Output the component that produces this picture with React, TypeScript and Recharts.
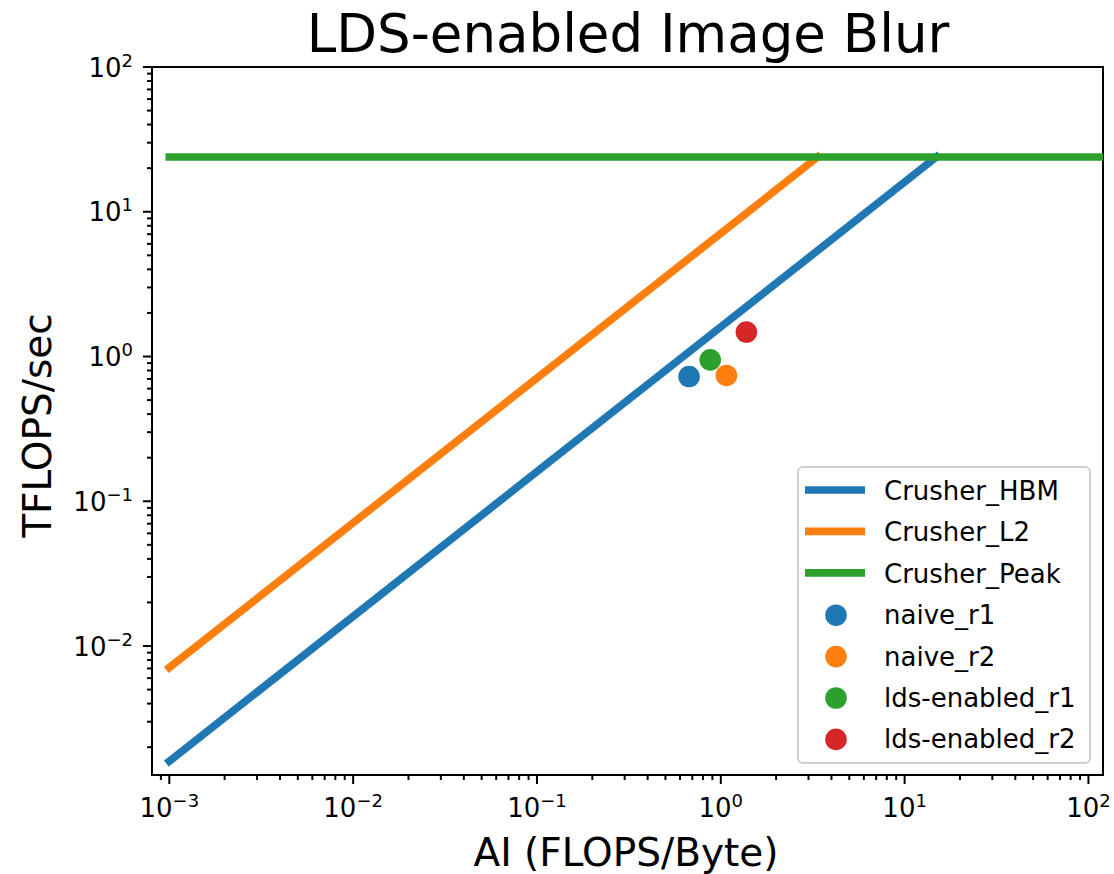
import React from "react";
import { ComposedChart, Line, Scatter, XAxis, YAxis, ReferenceArea } from "recharts";

// ---- data ----
const hbmAI = [0.001, 14.9];
const hbmPerf = [0.0016, 23.9];
const l2AI = [0.001, 3.37];
const l2Perf = [0.0071, 23.9];
const peakAI = [0.001, 200];
const peakPerf = [23.9, 23.9];

const pointNames = ["naive_r1", "naive_r2", "lds-enabled_r1", "lds-enabled_r2"];
const pointAI = [0.672, 1.073, 0.876, 1.378];
const pointPerf = [0.727, 0.74, 0.948, 1.476];
const pointColors = ["#1f77b4", "#ff7f0e", "#2ca02c", "#d62728"];

const lineNames = ["Crusher_HBM", "Crusher_L2", "Crusher_Peak"];
const lineColors = ["#1f77b4", "#ff7f0e", "#2ca02c"];

const X_DOMAIN = [0.000805, 120];
const Y_DOMAIN = [0.001285, 100];
const xDecades = [-4, -3, -2, -1, 0, 1, 2];
const yDecades = [-3, -2, -1, 0, 1, 2];
const minorMults = [1, 2, 3, 4, 5, 6, 7, 8, 9];

const buildTicks = (decades: number[], dom: number[]) => {
  const out: number[] = [];
  decades.forEach((d) => {
    minorMults.forEach((m) => {
      const v = m * Math.pow(10, d);
      if (v >= dom[0] * 0.9999 && v <= dom[1] * 1.0001) out.push(v);
    });
  });
  return out;
};
const xTicks = buildTicks(xDecades, X_DOMAIN);
const yTicks = buildTicks(yDecades, Y_DOMAIN);

const toXY = (xs: number[], ys: number[]) => xs.map((x, i) => ({ x, y: ys[i] }));
const hbmData = toXY(hbmAI, hbmPerf);
const l2Data = toXY(l2AI, l2Perf);
const peakData = toXY(peakAI, peakPerf);

const FONT = "DejaVu Sans, sans-serif";

const supText = (e: number) => (e < 0 ? "\u2212" + Math.abs(e) : String(e));

const isMajor = (v: number) => {
  const l = Math.log10(v);
  return Math.abs(l - Math.round(l)) < 1e-6;
};

const XTick = (props: any) => {
  const { x, y, payload } = props;
  const v = payload.value;
  const major = isMajor(v);
  const e = Math.round(Math.log10(v));
  return (
    <g>
      <line x1={x} x2={x} y1={y} y2={y + (major ? 9 : 5)} stroke="#000" strokeWidth={2} />
      {major && (
        <text x={x} y={y + 42} textAnchor="middle" fontSize={26} fontFamily={FONT} fill="#000">
          10<tspan dy={-10} fontSize={18}>{supText(e)}</tspan>
        </text>
      )}
    </g>
  );
};

const YTick = (props: any) => {
  const { x, y, payload } = props;
  const v = payload.value;
  const major = isMajor(v);
  const e = Math.round(Math.log10(v));
  return (
    <g>
      <line x1={x} x2={x - (major ? 9 : 5)} y1={y} y2={y} stroke="#000" strokeWidth={2} />
      {major && (
        <text x={x - 19} y={y + 9.5} textAnchor="end" fontSize={26} fontFamily={FONT} fill="#000">
          10<tspan dy={-10} fontSize={18}>{supText(e)}</tspan>
        </text>
      )}
    </g>
  );
};

const makeDot = (color: string) => (p: any) => (
  <circle cx={p.cx} cy={p.cy} r={10.8} fill={color} />
);

const legendRows = [
  ...lineNames.map((n, i) => ({ name: n, color: lineColors[i], kind: "line" })),
  ...pointNames.map((n, i) => ({ name: n, color: pointColors[i], kind: "dot" })),
];

export default function App() {
  return (
    <div style={{ position: "relative", width: 1114, height: 874, background: "#fff" }}>
      <style>{"body{margin:0;background:#fff}"}</style>
      <ComposedChart width={1114} height={874} margin={{ top: 67, right: 11, bottom: 0, left: 0 }}>
        <XAxis
          dataKey="x"
          type="number"
          scale="log"
          domain={X_DOMAIN}
          allowDataOverflow
          ticks={xTicks}
          interval={0}
          tick={<XTick />}
          tickLine={false}
          tickSize={0}
          tickMargin={0}
          axisLine={false}
          height={99}
        />
        <YAxis
          dataKey="y"
          type="number"
          scale="log"
          domain={Y_DOMAIN}
          allowDataOverflow
          ticks={yTicks}
          interval={0}
          tick={<YTick />}
          tickLine={false}
          tickSize={0}
          tickMargin={0}
          axisLine={false}
          width={152}
        />
        {pointNames.map((n, i) => (
          <Scatter
            key={n}
            name={n}
            data={[{ x: pointAI[i], y: pointPerf[i] }]}
            fill={pointColors[i]}
            shape={makeDot(pointColors[i])}
            isAnimationActive={false}
          />
        ))}
        <Line data={hbmData} dataKey="y" name={lineNames[0]} stroke={lineColors[0]} strokeWidth={7.7} strokeLinecap="square" dot={false} isAnimationActive={false} />
        <Line data={l2Data} dataKey="y" name={lineNames[1]} stroke={lineColors[1]} strokeWidth={7.7} strokeLinecap="square" dot={false} isAnimationActive={false} />
        <Line data={peakData} dataKey="y" name={lineNames[2]} stroke={lineColors[2]} strokeWidth={7.7} strokeLinecap="square" dot={false} isAnimationActive={false} />
        <ReferenceArea
          x1={X_DOMAIN[0]}
          x2={X_DOMAIN[1]}
          y1={Y_DOMAIN[0]}
          y2={Y_DOMAIN[1]}
          fill="none"
          fillOpacity={0}
          stroke="#000"
          strokeWidth={2}
          ifOverflow="visible"
        />
      </ComposedChart>
      <svg
        width={1114}
        height={874}
        style={{ position: "absolute", left: 0, top: 0, pointerEvents: "none" }}
      >
        <text x={628} y={52} textAnchor="middle" fontSize={53} fontFamily={FONT} fill="#000">
          LDS-enabled Image Blur
        </text>
        <text x={626} y={866} textAnchor="middle" fontSize={39} fontFamily={FONT} fill="#000">
          AI (FLOPS/Byte)
        </text>
        <text
          transform="translate(50.7,425.5) rotate(-90)"
          x={0}
          y={0}
          textAnchor="middle"
          fontSize={39}
          fontFamily={FONT}
          fill="#000"
        >
          TFLOPS/sec
        </text>
        <rect x={798} y={467} width={292} height={296} rx={5} ry={5} fill="#fff" fillOpacity={0.8} stroke="#d0d0d0" strokeWidth={2} />
        {legendRows.map((r, i) => {
          const base = 500 + i * 41.4;
          const cy = base - 10;
          return (
            <g key={r.name}>
              {r.kind === "line" ? (
                <line x1={805} x2={865} y1={cy} y2={cy} stroke={r.color} strokeWidth={7.7} />
              ) : (
                <circle cx={836} cy={cy + 1} r={10.8} fill={r.color} />
              )}
              <text x={884} y={base} fontSize={26} fontFamily={FONT} fill="#000">
                {r.name}
              </text>
            </g>
          );
        })}
      </svg>
    </div>
  );
}
